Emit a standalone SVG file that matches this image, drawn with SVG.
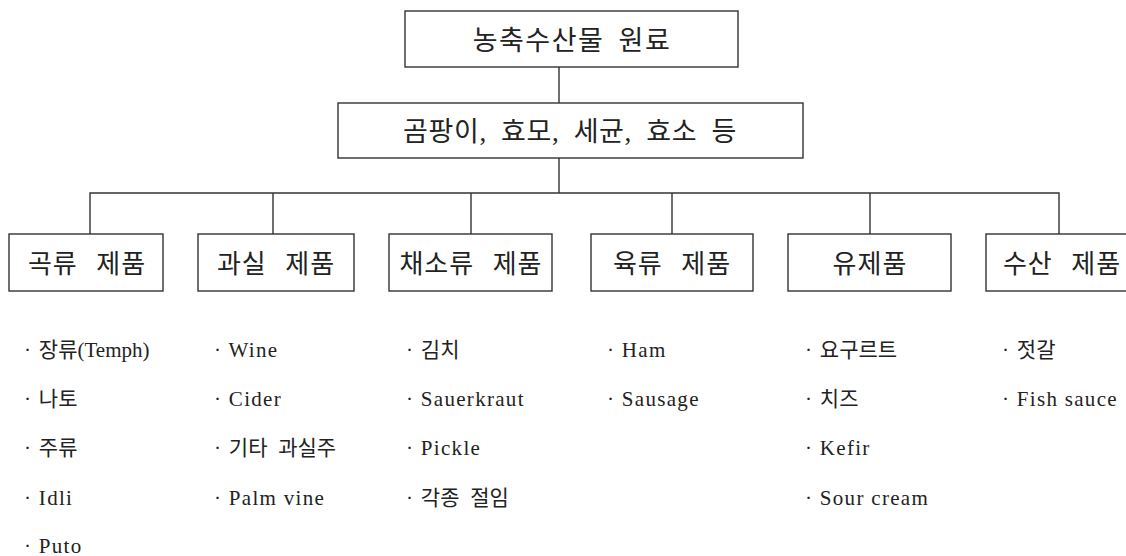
<svg xmlns="http://www.w3.org/2000/svg" width="1126" height="556" viewBox="0 0 1126 556">
<style>
.box{fill:#fff;stroke:#333;stroke-width:1.4}
.ln{fill:none;stroke:#333;stroke-width:1.4}
.t{font-family:"Liberation Serif","Noto Sans CJK KR",serif;fill:#222;text-anchor:middle}
.big{font-size:27px;letter-spacing:1.5px;word-spacing:6px}
.mid{font-size:27px;letter-spacing:0.6px;word-spacing:7px}
.lab{font-size:26px;letter-spacing:1px;word-spacing:11px}
.li{font-family:"Liberation Serif","Noto Sans CJK KR",serif;fill:#222;font-size:21px;letter-spacing:1.3px}
.k{font-family:"Noto Sans CJK KR",sans-serif;font-size:21px;letter-spacing:0;word-spacing:6px}
</style>
<rect width="1126" height="556" fill="#fff"/>
<g id="connectors">
<line class="ln" x1="559" y1="67" x2="559" y2="103"/>
<line class="ln" x1="559" y1="158" x2="559" y2="193"/>
<polyline class="ln" points="90,234 90,193 1059,193 1059,234"/>
<line class="ln" x1="273" y1="193" x2="273" y2="234"/>
<line class="ln" x1="471" y1="193" x2="471" y2="234"/>
<line class="ln" x1="672" y1="193" x2="672" y2="234"/>
<line class="ln" x1="870" y1="193" x2="870" y2="234"/>
</g>
<g id="root">
<rect class="box" x="405" y="11" width="333" height="56"/>
<text class="t big" x="572" y="50">농축수산물 원료</text>
</g>
<g id="agents">
<rect class="box" x="338" y="103" width="465" height="55"/>
<text class="t mid" x="570" y="141">곰팡이, 효모, 세균, 효소 등</text>
</g>
<g id="n1">
<rect class="box" x="9" y="234" width="154" height="57"/>
<text class="t lab" x="87" y="273">곡류 제품</text>
</g>
<g id="n2">
<rect class="box" x="198" y="234" width="156" height="57"/>
<text class="t lab" x="276" y="273">과실 제품</text>
</g>
<g id="n3">
<rect class="box" x="389" y="234" width="163" height="57"/>
<text class="t lab" x="471" y="273">채소류 제품</text>
</g>
<g id="n4">
<rect class="box" x="591" y="234" width="162" height="57"/>
<text class="t lab" x="672" y="273">육류 제품</text>
</g>
<g id="n5">
<rect class="box" x="788" y="234" width="163" height="57"/>
<text class="t lab" x="870" y="273">유제품</text>
</g>
<g id="n6">
<rect class="box" x="986" y="234" width="150" height="57"/>
<text class="t lab" x="1062" y="273">수산 제품</text>
</g>
<g id="list1">
<text class="li" x="24" y="357">· <tspan class="k">장류</tspan><tspan letter-spacing="0">(Temph)</tspan></text>
<text class="li" x="24" y="406">· <tspan class="k">나토</tspan></text>
<text class="li" x="24" y="455">· <tspan class="k">주류</tspan></text>
<text class="li" x="24" y="505">· Idli</text>
<text class="li" x="24" y="553">· Puto</text>
</g>
<g id="list2">
<text class="li" x="214" y="357">· Wine</text>
<text class="li" x="214" y="406">· Cider</text>
<text class="li" x="214" y="455">· <tspan class="k">기타 과실주</tspan></text>
<text class="li" x="214" y="505">· Palm vine</text>
</g>
<g id="list3">
<text class="li" x="406" y="357">· <tspan class="k">김치</tspan></text>
<text class="li" x="406" y="406">· Sauerkraut</text>
<text class="li" x="406" y="455">· Pickle</text>
<text class="li" x="406" y="505">· <tspan class="k">각종 절임</tspan></text>
</g>
<g id="list4">
<text class="li" x="607" y="357">· Ham</text>
<text class="li" x="607" y="406">· Sausage</text>
</g>
<g id="list5">
<text class="li" x="805" y="357">· <tspan class="k">요구르트</tspan></text>
<text class="li" x="805" y="406">· <tspan class="k">치즈</tspan></text>
<text class="li" x="805" y="455">· Kefir</text>
<text class="li" x="805" y="505">· Sour cream</text>
</g>
<g id="list6">
<text class="li" x="1002" y="357">· <tspan class="k">젓갈</tspan></text>
<text class="li" x="1002" y="406">· Fish sauce</text>
</g>
</svg>
